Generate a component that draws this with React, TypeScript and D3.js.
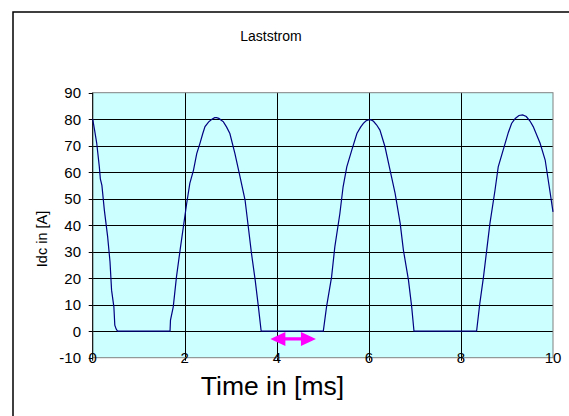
import React from "react";
import * as d3 from "d3";

const timeMs = [0, 0.04, 0.087, 0.144, 0.166, 0.2, 0.253, 0.325, 0.376, 0.41, 0.46, 0.48, 0.51, 0.54,
  1.68, 1.69, 1.75, 1.82, 1.9, 1.97, 2.04, 2.11, 2.19, 2.26, 2.33, 2.39, 2.44, 2.52, 2.59, 2.65, 2.69, 2.74, 2.84, 2.91, 2.98, 3.09, 3.2, 3.31, 3.38, 3.45, 3.53, 3.6, 3.66,
  5.01, 5.08, 5.19, 5.26, 5.37, 5.44, 5.52, 5.63, 5.74, 5.82, 5.88, 5.94, 5.99, 6.04, 6.1, 6.17, 6.24, 6.35, 6.46, 6.57, 6.68, 6.75, 6.86, 6.93, 6.98,
  8.34, 8.41, 8.49, 8.56, 8.63, 8.74, 8.81, 8.96, 9.03, 9.1, 9.18, 9.26, 9.34, 9.42, 9.5, 9.57, 9.72, 9.83, 9.93, 10];
const currentA = [80, 76, 71, 62, 57.5, 55, 45.7, 35.6, 26.2, 15.5, 9.2, 2.3, 0.8, 0,
  0, 4.2, 9.2, 20.5, 30.8, 39.4, 48, 55.8, 60.8, 67, 70.9, 74.5, 77.2, 79, 80, 80.6, 80.6, 80.3, 79, 77, 74.6, 67, 58.3, 49.5, 39.4, 29.3, 19.3, 9.2, 0,
  0, 9.2, 20.5, 31.8, 44.4, 54.5, 62, 68.4, 74.6, 77, 78.4, 79.4, 79.7, 79.8, 79.2, 77.8, 75.9, 69.6, 60.8, 52, 40.7, 30.6, 19.3, 9.2, 0,
  0, 10.5, 20.5, 30.6, 40.7, 53.2, 62, 70.9, 75, 78.4, 80.3, 81.4, 81.6, 81, 79.3, 77.2, 70.9, 64.6, 53.2, 45];

const xTicks = [0, 2, 4, 6, 8, 10];
const yTicks = [-10, 0, 10, 20, 30, 40, 50, 60, 70, 80, 90];
const arrowSpan = [3.86, 4.85];
const arrowLevel = -2.9;

const title = "Laststrom";
const xTitle = "Time in [ms]";
const yTitle = "Idc in [A]";

export default function App() {
  const W = 569, H = 416;
  const left = 92.7, right = 553, top = 92.7, bottom = 357.7;
  const x = d3.scaleLinear().domain([0, 10]).range([left, right]);
  const y = d3.scaleLinear().domain([-10, 90]).range([bottom, top]);
  const line = d3.line<number>().x((_, i) => x(timeMs[i])).y((d) => y(d));
  const font = "Liberation Sans, Arial, sans-serif";

  const ax1 = x(arrowSpan[0]), ax2 = x(arrowSpan[1]), ay = y(arrowLevel);
  const head = 15, hh = 7, sh = 1.6;
  const arrowPath = `M${ax1},${ay} L${ax1 + head},${ay - hh} L${ax1 + head},${ay - sh} L${ax2 - head},${ay - sh} L${ax2 - head},${ay - hh} L${ax2},${ay} L${ax2 - head},${ay + hh} L${ax2 - head},${ay + sh} L${ax1 + head},${ay + sh} L${ax1 + head},${ay + hh} Z`;

  return (
    <svg width={W} height={H} style={{ position: "absolute", left: 0, top: 0, background: "#fff" }} fontFamily={font}>
      <rect x={13} y={12} width={600} height={450} fill="#fff" stroke="#000" strokeWidth={1.5} />
      <text x={271} y={41} textAnchor="middle" fontSize={14} fill="#000">{title}</text>
      <rect x={left} y={top} width={right - left} height={bottom - top} fill="#CCFFFF" />
      {yTicks.slice(1, -1).map((t) => (
        <line key={"gy" + t} x1={left} x2={right} y1={Math.round(y(t)) + 0.5} y2={Math.round(y(t)) + 0.5} stroke="#000" strokeWidth={1} />
      ))}
      {xTicks.slice(1, -1).map((t) => (
        <line key={"gx" + t} x1={Math.round(x(t)) + 0.5} x2={Math.round(x(t)) + 0.5} y1={top} y2={bottom + 3} stroke="#000" strokeWidth={1} />
      ))}
      <rect x={left} y={top} width={right - left} height={bottom - top} fill="none" stroke="#808080" strokeWidth={1} />
      <line x1={left} x2={left} y1={top} y2={bottom + 3} stroke="#000" strokeWidth={1} />
      {yTicks.map((t) => (
        <g key={"ty" + t}>
          <line x1={left - 4} x2={left} y1={Math.round(y(t)) + 0.5} y2={Math.round(y(t)) + 0.5} stroke="#000" />
          <text x={81} y={y(t) + 5.5} textAnchor="end" fontSize={15} fill="#000">{t}</text>
        </g>
      ))}
      {xTicks.map((t) => (
        <text key={"tx" + t} x={x(t)} y={bottom + 5} textAnchor="middle" fontSize={15} fill="#000">{t}</text>
      ))}
      <path d={line(currentA) || ""} fill="none" stroke="#000080" strokeWidth={1.2} />
      <path d={arrowPath} fill="#FF00FF" />
      <text x={272.5} y={395} textAnchor="middle" fontSize={26.5} fill="#000">{xTitle}</text>
      <text transform={`translate(47,239) rotate(-90)`} textAnchor="middle" fontSize={14.5} fill="#000">{yTitle}</text>
    </svg>
  );
}
